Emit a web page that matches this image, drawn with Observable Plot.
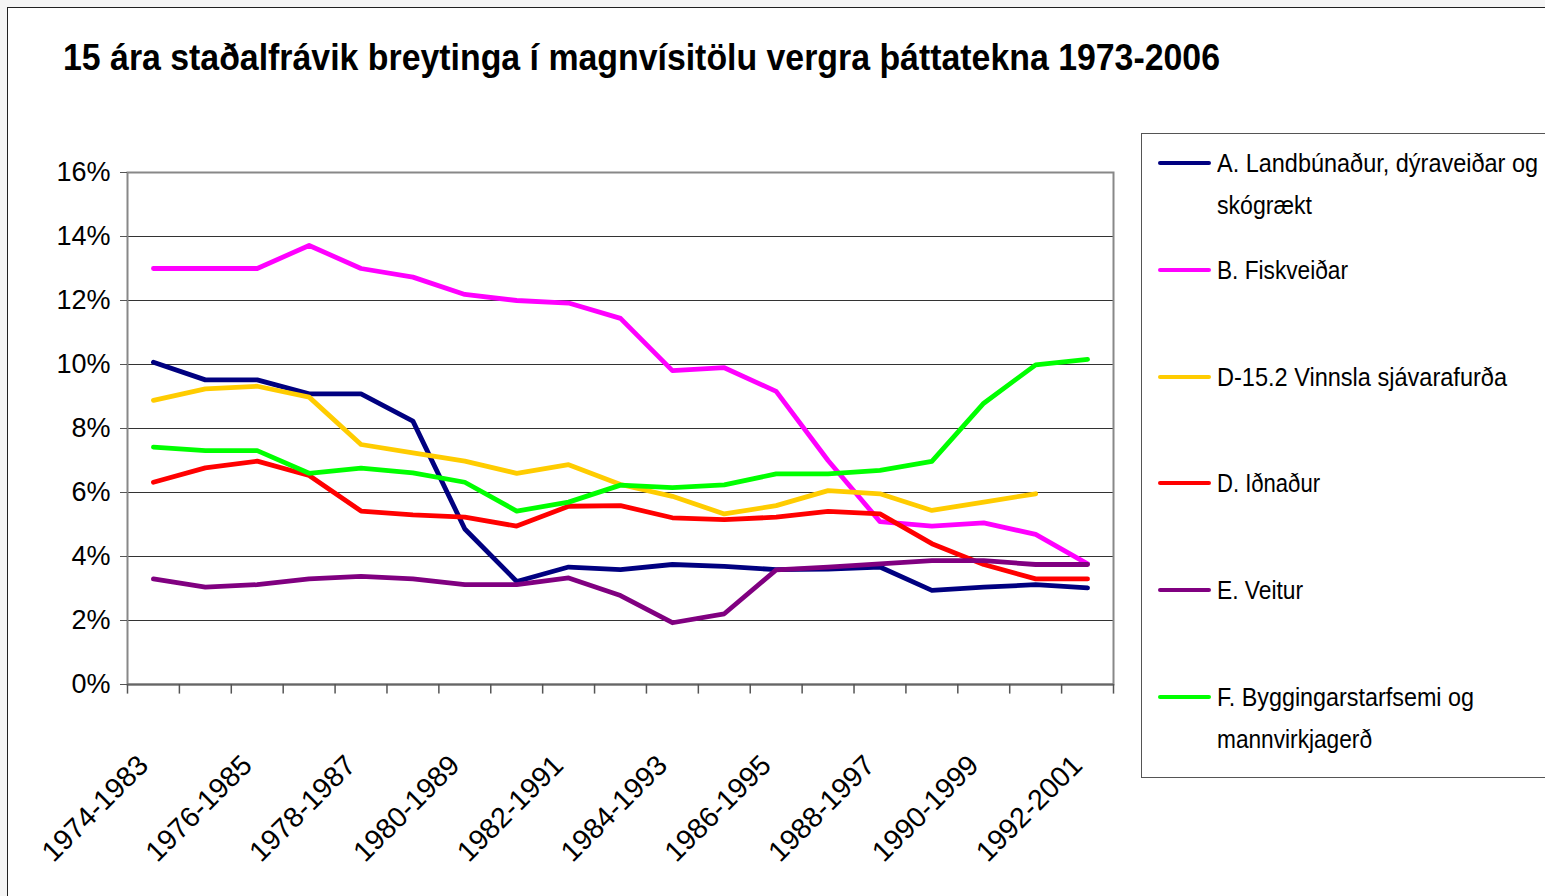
<!DOCTYPE html>
<html><head><meta charset="utf-8">
<script src="https://cdn.jsdelivr.net/npm/d3@7"></script>
<script src="https://cdn.jsdelivr.net/npm/@observablehq/plot@0.6"></script>
<style>
body{margin:0;background:#f5f5f5;width:1545px;height:896px;overflow:hidden;position:relative;font-family:"Liberation Sans",Arial,sans-serif;}
#box{position:absolute;left:7px;top:7px;width:1600px;height:1000px;border:1.5px solid #222;background:#fff;}
#chart{position:absolute;left:0;top:0;}
.t{position:absolute;white-space:nowrap;transform-origin:0 0;color:#000;}
#legendbox{position:absolute;left:1141px;top:133px;width:500px;height:643px;border:1.5px solid #555;background:#fff;}
.lgline{position:absolute;left:1158px;width:53px;height:4px;border-radius:2px;}
</style></head><body>
<div id="box"></div>
<div id="legendbox"></div>
<div id="chart"></div>
<div id="title" class="t">15 ára staðalfrávik breytinga í magnvísitölu vergra þáttatekna 1973-2006</div>
<div id="legend"></div>
<script>
const categories = ["1974-1983","1975-1984","1976-1985","1977-1986","1978-1987","1979-1988","1980-1989","1981-1990","1982-1991","1983-1992","1984-1993","1985-1994","1986-1995","1987-1996","1988-1997","1989-1998","1990-1999","1991-2000","1992-2001"];
const labeledCategories = ["1974-1983","1976-1985","1978-1987","1980-1989","1982-1991","1984-1993","1986-1995","1988-1997","1990-1999","1992-2001"];
const yTicks = [0,2,4,6,8,10,12,14,16];
const gridValues = [2,4,6,8,10,12,14];

const seriesNames = ["A. Landbúnaður, dýraveiðar og skógrækt","B. Fiskveiðar","D-15.2 Vinnsla sjávarafurða","D. Iðnaður","E. Veitur","F. Byggingarstarfsemi og mannvirkjagerð"];
const legendLines = [["A. Landbúnaður, dýraveiðar og","skógrækt"],["B. Fiskveiðar"],["D-15.2 Vinnsla sjávarafurða"],["D. Iðnaður"],["E. Veitur"],["F. Byggingarstarfsemi og","mannvirkjagerð"]];
const seriesColors = ["#000080","#ff00ff","#ffcc00","#ff0000","#800080","#00ff00"];

const valuesA = [10.07,9.52,9.52,9.08,9.08,8.23,4.86,3.22,3.67,3.59,3.75,3.69,3.59,3.61,3.67,2.94,3.04,3.12,3.02];
const valuesB = [13.0,13.0,13.0,13.72,13.0,12.73,12.19,12.0,11.92,11.44,9.81,9.9,9.16,7.0,5.09,4.95,5.05,4.69,3.77];
const valuesD152 = [8.88,9.24,9.32,8.98,7.5,7.24,6.98,6.6,6.87,6.25,5.88,5.33,5.59,6.06,5.96,5.44,5.70,5.96,null];
const valuesD = [6.32,6.77,6.98,6.53,5.42,5.30,5.23,4.95,5.57,5.59,5.21,5.15,5.23,5.41,5.33,4.40,3.75,3.30,3.30];
const valuesE = [3.30,3.04,3.12,3.30,3.38,3.30,3.12,3.12,3.33,2.78,1.93,2.21,3.58,3.67,3.77,3.87,3.87,3.75,3.75];
const valuesF = [7.42,7.31,7.31,6.60,6.76,6.61,6.32,5.42,5.70,6.23,6.15,6.24,6.58,6.58,6.69,6.97,8.79,9.99,10.16];

const allValues = [valuesA,valuesB,valuesD152,valuesD,valuesE,valuesF];
const data = [];
allValues.forEach((vals, s) => vals.forEach((v, i) => { if (v != null) data.push({series: seriesNames[s], period: categories[i], value: v}); }));

const W = 1545, H = 896, mL = 127, mR = 432, mT = 172, mB = 212;
const step = (W - mL - mR) / categories.length;

const chart = Plot.plot({
  width: W, height: H,
  marginLeft: mL, marginRight: mR, marginTop: mT, marginBottom: mB,
  style: {background: "transparent", fontFamily: "'Liberation Sans', Arial, sans-serif", color: "#000"},
  x: {type: "point", domain: categories, padding: 0.5, round: false, axis: null},
  y: {domain: [0, 16], axis: null},
  color: {domain: seriesNames, range: seriesColors},
  marks: [
    Plot.ruleY(gridValues, {stroke: "#333", strokeWidth: 1.2}),
    Plot.frame({stroke: "#888", strokeWidth: 2}),
    Plot.ruleY([0], {stroke: "#666", strokeWidth: 2}),
    Plot.axisY({ticks: yTicks, tickFormat: d => d + "%", tickSize: 7, tickPadding: 10, fontSize: 27, stroke: "#555", label: null}),
    Plot.ruleX(categories, {x: d => d, dx: -step / 2, y1: 0, y2: -0.3, stroke: "#555", strokeWidth: 1.5}),
    Plot.ruleX([categories[categories.length - 1]], {x: d => d, dx: step / 2, y1: 0, y2: -0.3, stroke: "#555", strokeWidth: 1.5}),
    Plot.text(labeledCategories, {x: d => d, y: 0, text: d => d, rotate: -45, textAnchor: "end", fontSize: 28.5, dx: -10, dy: 76, fill: "#000"}),
    Plot.line(data, {x: "period", y: "value", z: "series", stroke: "series", strokeWidth: 4.8, strokeLinejoin: "round", strokeLinecap: "round"})
  ]
});
document.getElementById("chart").appendChild(chart);

function place(el, left, baseline, fs, weight, family, targetWidth) {
  el.style.fontSize = fs + "px";
  el.style.lineHeight = fs + "px";
  el.style.fontWeight = weight;
  el.style.fontFamily = family;
  el.style.left = left + "px";
  el.style.top = (baseline - 0.8465 * fs) + "px";
  const w = el.getBoundingClientRect().width;
  if (targetWidth && w > 0) el.style.transform = `scaleX(${targetWidth / w})`;
}
const narrow = "'Liberation Sans Narrow','Liberation Sans',Arial,sans-serif";
place(document.getElementById("title"), 63, 70, 36, "bold", narrow, 1157);

const legendY = [163, 270, 377, 483, 590, 697];
const legendWidths = [[321, 95], [131], [290], [103], [86], [257, 155]];
const legend = document.getElementById("legend");
legendLines.forEach((lines, s) => {
  const ln = document.createElement("div");
  ln.className = "lgline";
  ln.style.top = (legendY[s] - 2) + "px";
  ln.style.background = seriesColors[s];
  legend.appendChild(ln);
  lines.forEach((txt, k) => {
    const sp = document.createElement("div");
    sp.className = "t";
    sp.textContent = txt;
    legend.appendChild(sp);
    place(sp, 1217, legendY[s] + 9 + k * 42, 26, "normal", narrow, legendWidths[s][k]);
  });
});
</script>
</body></html>
